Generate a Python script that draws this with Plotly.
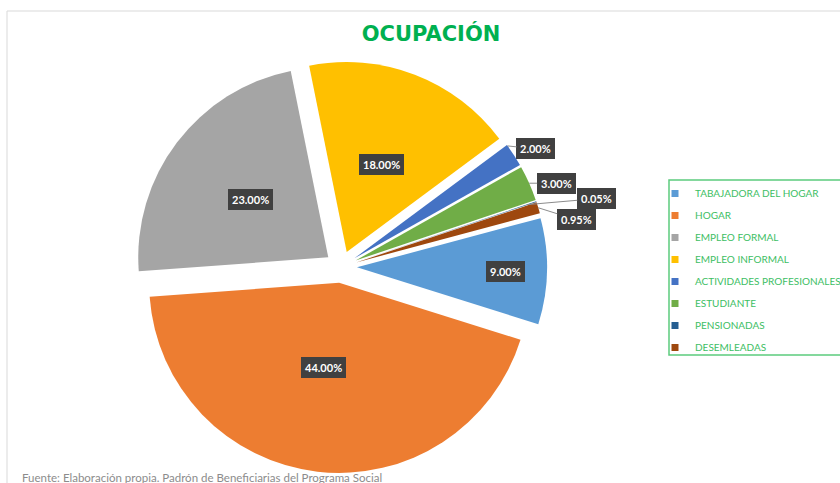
import math
import plotly.graph_objects as go

# ---------------- data ----------------
categories = ["TABAJADORA DEL HOGAR", "HOGAR", "EMPLEO FORMAL", "EMPLEO INFORMAL",
              "ACTIVIDADES PROFESIONALES", "ESTUDIANTE", "PENSIONADAS", "DESEMLEADAS"]
values = [9.00, 44.00, 23.00, 18.00, 2.00, 3.00, 0.05, 0.95]
colors = ["#5B9BD5", "#ED7D31", "#A5A5A5", "#FFC000",
          "#4472C4", "#70AD47", "#255E91", "#9E480E"]

title_text = "OCUPACIÓN"
source_text = "Fuente: Elaboración propia. Padrón de Beneficiarias del Programa Social"

# ---------------- layout / style ----------------
W, H = 840, 483
CX, CY = 341, 267          # pie centre (px)
R_OUT = 206                # radius incl. pull (px)
PULL = 0.084
ROTATION = 75
r = R_OUT / (1 + PULL)

# label placement style: (radial fraction, angle tweak, outside?, dx, dy)
label_style = [
    (0.78, 0.2, False, 0, 0),
    (0.508, 2.6, False, 0, 0),
    (0.607, -6.5, False, 0, 0),
    (0.493, 0.4, False, 0, 0),
    (1.0, -3.0, True, 28, 3),
    (1.0, 0.0, True, 27, 0),
    (0.95, 0.0, True, 69, -6),
    (1.0, 0.0, True, 38, 12),
]

fig = go.Figure()
fig.add_trace(go.Pie(
    labels=categories, values=values, sort=False, direction="clockwise",
    rotation=ROTATION, pull=[PULL] * len(values),
    marker=dict(colors=colors, line=dict(width=0)),
    textinfo="none", showlegend=False,
    domain=dict(x=[(CX - R_OUT) / W, (CX + R_OUT) / W],
                y=[1 - (CY + R_OUT) / H, 1 - (CY - R_OUT) / H]),
    hovertemplate="%{label}: %{value:.2f}%<extra></extra>",
))

# legend entries (one group each so the spacing can be set)
for cat, col in zip(categories, colors):
    fig.add_trace(go.Scatter(x=[None], y=[None], mode="markers", name=cat,
                             legendgroup=cat,
                             marker=dict(symbol="square", size=7, color=col)))

# data labels
total = sum(values)
cum = 0.0
annotations = []
for v, st in zip(values, label_style):
    mid = ROTATION + (cum + v / 2) / total * 360
    cum += v
    k, dth, outside, dx, dy = st
    th = math.radians(mid + dth)
    d = PULL * r + k * r
    px = CX + d * math.sin(th)
    py = CY - d * math.cos(th)
    txt = f"{v:.2f}%"
    base = dict(text=f"<b>{txt}</b>", xref="paper", yref="paper",
                x=px / W, y=1 - py / H,
                font=dict(family="Lato", size=11, color="white"),
                bgcolor="#404040", bordercolor="#404040", borderpad=3)
    if outside:
        base.update(showarrow=True, arrowhead=0, arrowwidth=1, arrowcolor="#8C8C8C",
                    ax=dx, ay=dy, standoff=0)
    else:
        base.update(showarrow=False)
    annotations.append(base)

annotations.append(dict(text=source_text, xref="paper", yref="paper",
                        x=20 / W, y=1 - 477 / H, xanchor="left", yanchor="middle",
                        showarrow=False,
                        font=dict(family="Lato", size=11.5, color="#8C8C8C")))

fig.update_layout(
    width=W, height=H,
    margin=dict(l=0, r=0, t=0, b=0, autoexpand=False),
    paper_bgcolor="white", plot_bgcolor="white",
    xaxis=dict(visible=False), yaxis=dict(visible=False),
    title=dict(text=f"<b>{title_text}</b>", x=431 / W, xanchor="center",
               y=1 - 34 / H, yanchor="middle",
               font=dict(family="DejaVu Sans", size=21, color="#00B050")),
    legend=dict(x=655 / W, xanchor="left", y=1 - 179 / H, yanchor="top",
                font=dict(family="Lato", size=10, color="#3DBE63"),
                tracegroupgap=3, bgcolor="rgba(0,0,0,0)", borderwidth=0),
    annotations=annotations,
    shapes=[
        dict(type="rect", xref="paper", yref="paper", x0=7 / W, x1=1.1,
             y0=-0.1, y1=1 - 11 / H, line=dict(color="#D9D9D9", width=1)),
        dict(type="rect", xref="paper", yref="paper", x0=669 / W, x1=1.05,
             y0=1 - 355 / H, y1=1 - 180 / H, line=dict(color="#5CCB7E", width=1.5)),
    ],
)

fig.write_html("out.html", config={"displayModeBar": False},
               post_script="document.body.style.margin='0';"
                           "document.body.style.overflow='hidden';")
